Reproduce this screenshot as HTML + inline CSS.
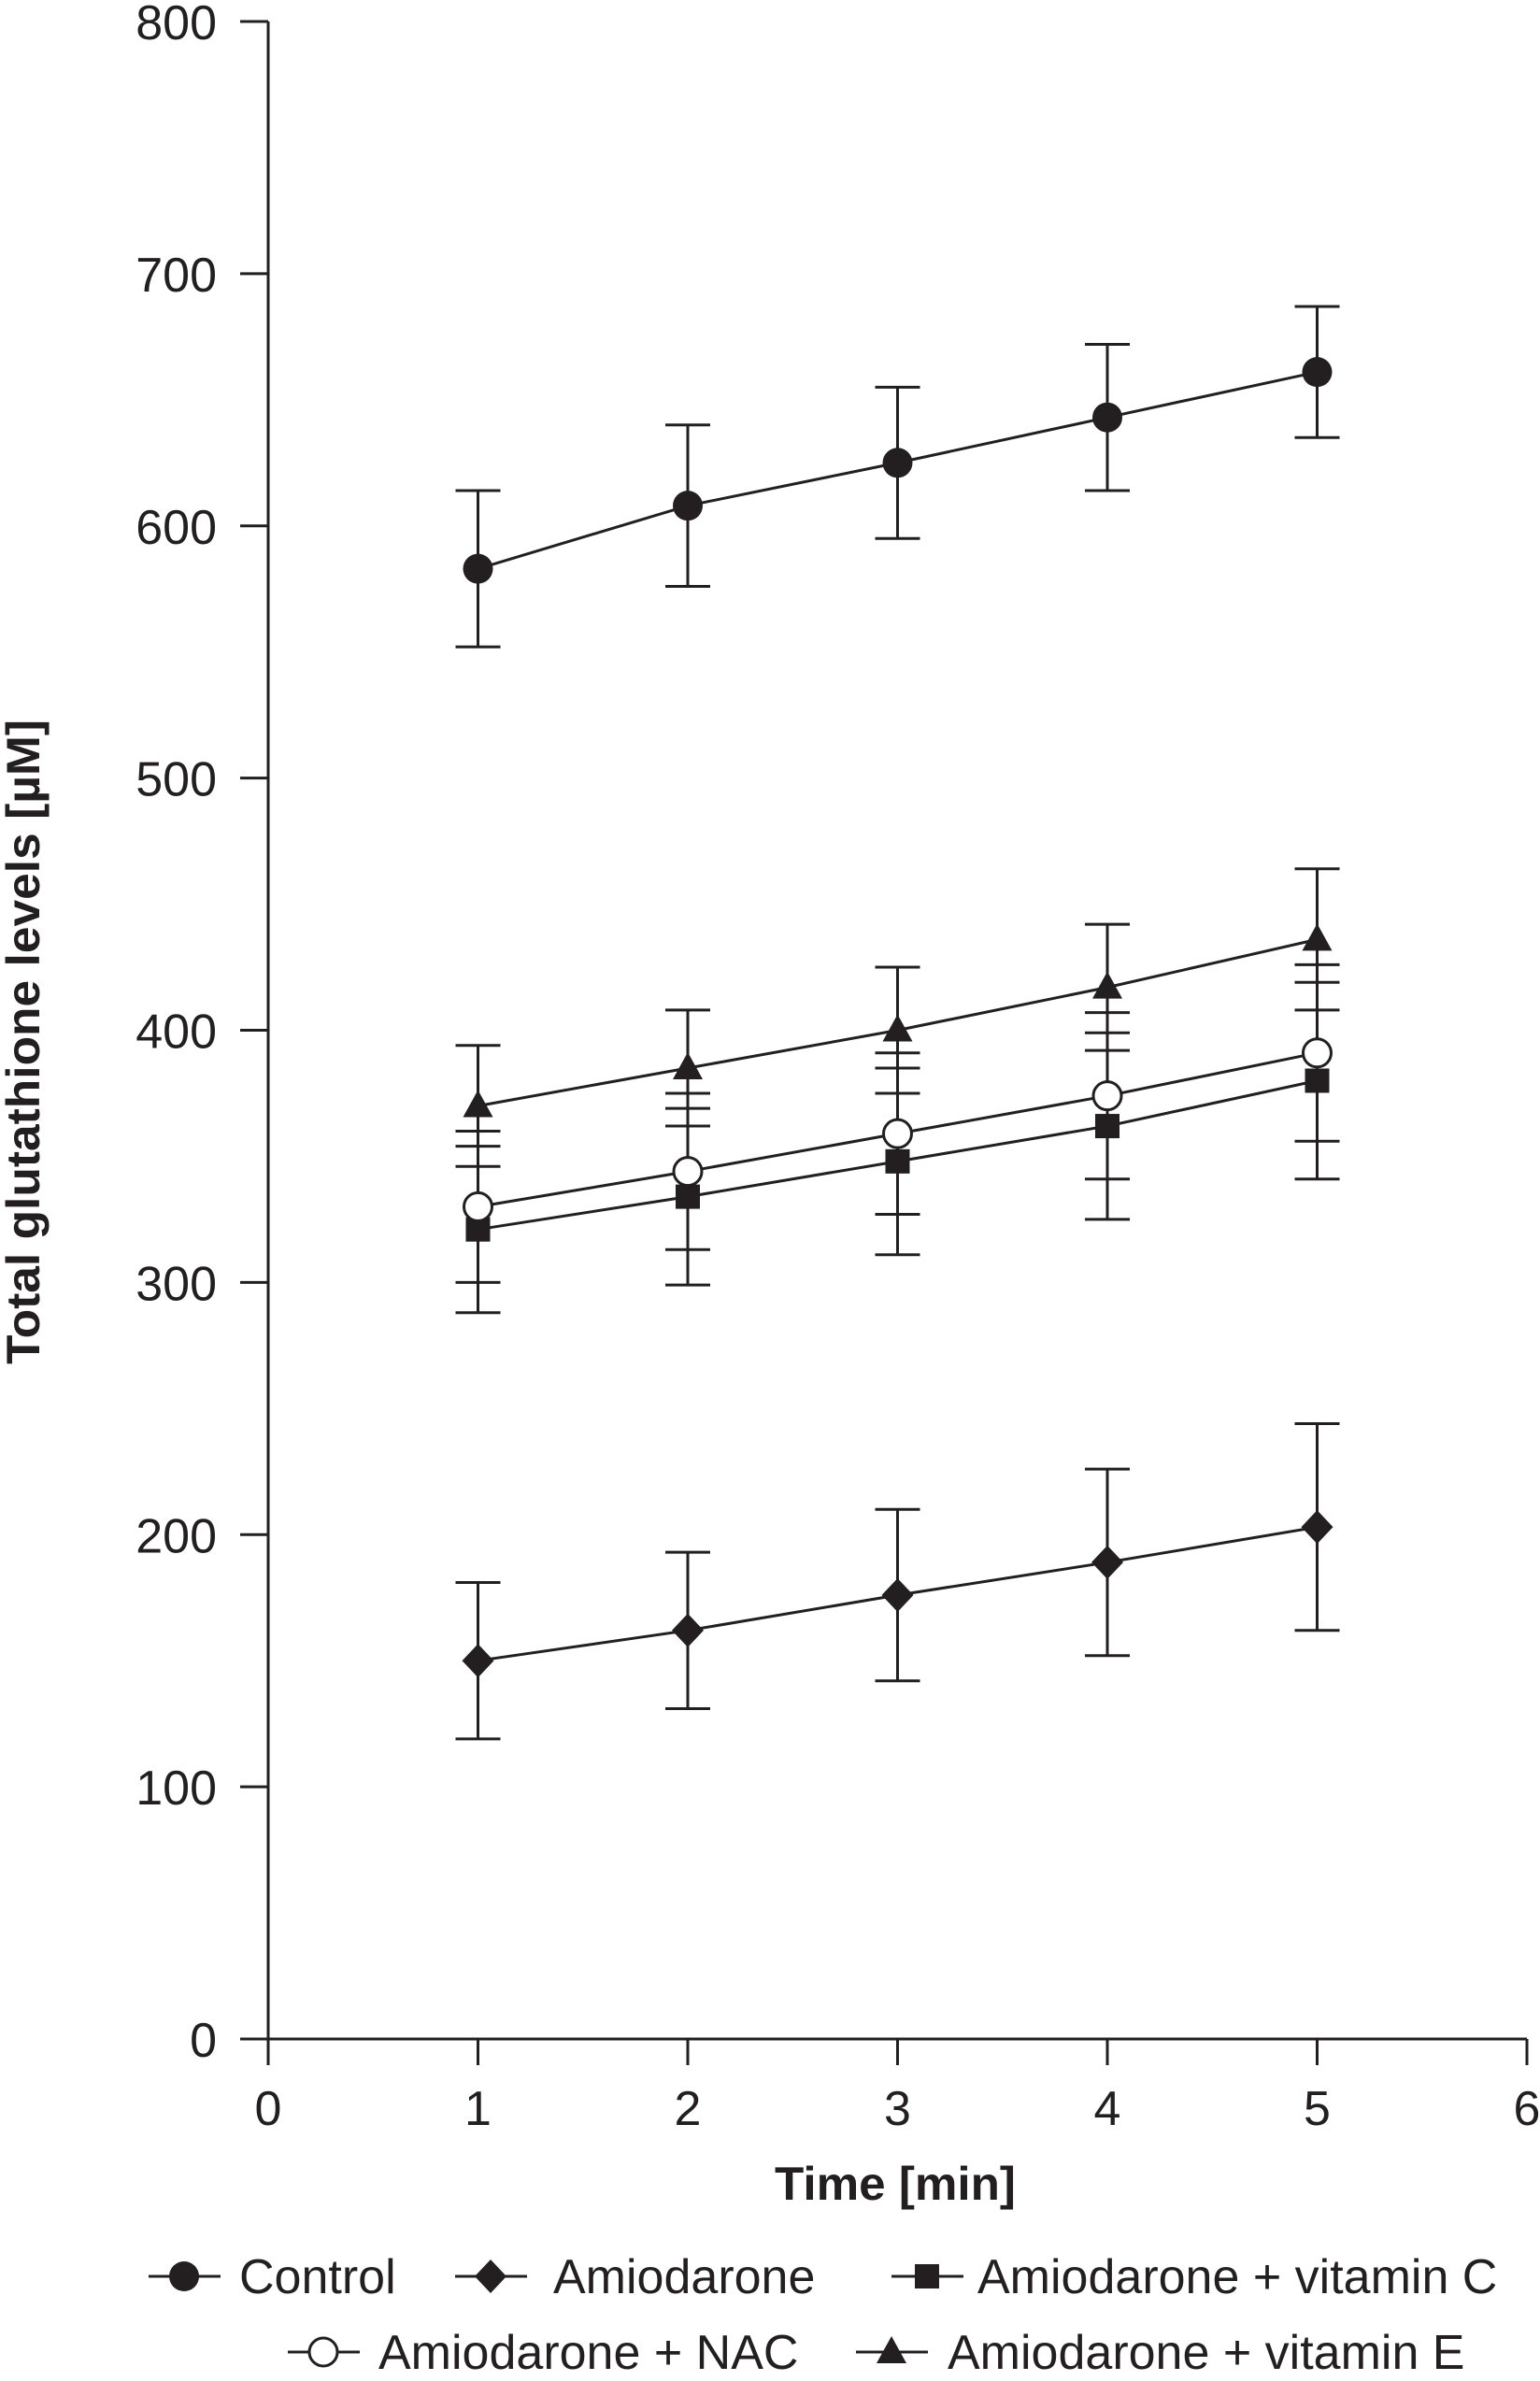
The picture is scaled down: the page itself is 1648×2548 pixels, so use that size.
<!DOCTYPE html>
<html><head><meta charset="utf-8"><style>
html,body{margin:0;padding:0;background:#fff;}
svg text{font-family:"Liberation Sans",sans-serif;fill:#231f20;}
</style></head><body>
<svg id="chart" width="1648" height="2543" viewBox="0 0 1648 2543" xmlns="http://www.w3.org/2000/svg">
<g id="axes"></g>
<g id="series"></g>
<text x="958" y="2354" text-anchor="middle" font-size="50" font-weight="bold" textLength="258" lengthAdjust="spacingAndGlyphs">Time [min]</text>
<text transform="translate(42,1115) rotate(-90)" text-anchor="middle" font-size="50" font-weight="bold" textLength="690" lengthAdjust="spacingAndGlyphs">Total glutathione levels [µM]</text>
<g id="legend"></g>
</svg>
<script>
const xTicks=[0,1,2,3,4,5,6];
const yTicks=[0,100,200,300,400,500,600,700,800];
const times=[1,2,3,4,5];
const controlVals=[583,608,625,643,661];
const controlErr=[31,32,30,29,26];
const amioVals=[150,162,176,189,203];
const amioErr=[31,31,34,37,41];
const vitCVals=[321,334,348,362,380];
const vitCErr=[33,35,37,37,39];
const nacVals=[330,344,359,374,391];
const nacErr=[30,31,32,33,35];
const vitEVals=[370,385,400,417,436];
const vitEErr=[24,23,25,25,28];
const seriesNames=["Control","Amiodarone","Amiodarone + vitamin C","Amiodarone + NAC","Amiodarone + vitamin E"];

const NS="http://www.w3.org/2000/svg";
const X0=287,X6=1634,Y0=2182,Y800=23;
function xs(v){return X0+(X6-X0)*v/6;}
function ys(v){return Y0+(Y800-Y0)*v/800;}
function mk(tag,attrs,parent){const e=document.createElementNS(NS,tag);for(const k in attrs)e.setAttribute(k,attrs[k]);parent.appendChild(e);return e;}
const axes=document.getElementById('axes');
let l=mk('line',{x1:X0,y1:ys(800),x2:X0,y2:Y0+28,stroke:'#231f20','stroke-width':3},axes);


l=mk('line',{x1:X0-30,y1:Y0,x2:X6,y2:Y0,stroke:'#231f20','stroke-width':3},axes);


yTicks.forEach(v=>{
  const t=mk('line',{x1:X0-30,y1:ys(v),x2:X0,y2:ys(v),stroke:'#231f20','stroke-width':3},axes);
  
  
  const tx=mk('text',{x:232,y:ys(v)+19,'text-anchor':'end','font-size':52},axes);
  tx.textContent=v;
  
  
});
xTicks.forEach(v=>{
  const t=mk('line',{x1:xs(v),y1:Y0,x2:xs(v),y2:Y0+28,stroke:'#231f20','stroke-width':3},axes);
  
  
  const tx=mk('text',{x:xs(v),y:Y0+92,'text-anchor':'middle','font-size':52},axes);
  tx.textContent=v;
  
  
});
function marker(type,cx,cy,parent){
  let e;
  if(type==='circle')e=mk('circle',{cx:cx,cy:cy,r:16,fill:'#231f20'},parent);
  else if(type==='open')e=mk('circle',{cx:cx,cy:cy,r:15,fill:'#fff',stroke:'#231f20','stroke-width':3},parent);
  else if(type==='diamond')e=mk('polygon',{points:`${cx},${cy-18} ${cx+17},${cy} ${cx},${cy+18} ${cx-17},${cy}`,fill:'#231f20'},parent);
  else if(type==='square')e=mk('rect',{x:cx-13,y:cy-13,width:26,height:26,fill:'#231f20'},parent);
  else e=mk('polygon',{points:`${cx},${cy-17} ${cx+16},${cy+12} ${cx-16},${cy+12}`,fill:'#231f20'},parent);
  return e;
}
const seriesList=[
 {name:'control',vals:controlVals,err:controlErr,m:'circle'},
 {name:'amiodarone',vals:amioVals,err:amioErr,m:'diamond'},
 {name:'vitamin-c',vals:vitCVals,err:vitCErr,m:'square'},
 {name:'vitamin-e',vals:vitEVals,err:vitEErr,m:'triangle'},
 {name:'nac',vals:nacVals,err:nacErr,m:'open'}
];
const sg=document.getElementById('series');
seriesList.forEach(s=>{
  const g=mk('g',{},sg);
  
  
  times.forEach((t,i)=>{
    const cx=xs(t),top=ys(s.vals[i]+s.err[i]),bot=ys(s.vals[i]-s.err[i]);
    const eb=mk('path',{d:`M${cx},${top}V${bot}M${cx-24},${top}H${cx+24}M${cx-24},${bot}H${cx+24}`,stroke:'#231f20','stroke-width':3,fill:'none'},g);
    
    
  });
  const pts=times.map((t,i)=>xs(t)+','+ys(s.vals[i])).join(' ');
  const pl=mk('polyline',{points:pts,fill:'none',stroke:'#231f20','stroke-width':3},g);
  
  
  times.forEach((t,i)=>{
    const m=marker(s.m,xs(t),ys(s.vals[i]),g);
    
    
  });
});
const lg=document.getElementById('legend');
const legendItems=[
 {label:seriesNames[0],m:'circle',x1:159,y:2436,tx:256},
 {label:seriesNames[1],m:'diamond',x1:487,y:2436,tx:592},
 {label:seriesNames[2],m:'square',x1:954,y:2436,tx:1046},
 {label:seriesNames[3],m:'open',x1:308,y:2517,tx:405},
 {label:seriesNames[4],m:'triangle',x1:916,y:2517,tx:1014}
];
legendItems.forEach(it=>{
  const g=mk('g',{},lg);
  
  
  mk('line',{x1:it.x1,y1:it.y,x2:it.x1+77,y2:it.y,stroke:'#231f20','stroke-width':3},g);
  marker(it.m,it.x1+38,it.y,g);
  const t=mk('text',{x:it.tx,y:it.y+18,'font-size':52},g);
  t.textContent=it.label;
});
</script>
</body></html>
